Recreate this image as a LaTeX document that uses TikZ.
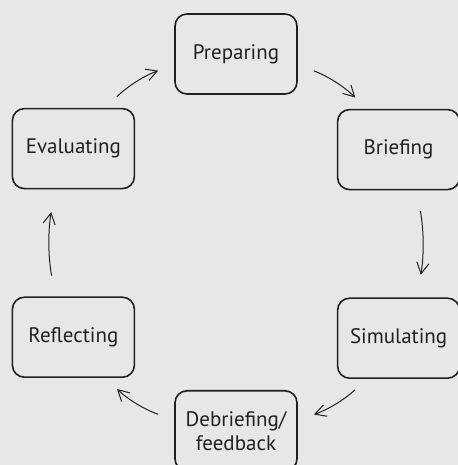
\documentclass[tikz,border=0pt]{standalone}
\usepackage{fontspec}
\setmainfont{PT Sans}
\usetikzlibrary{positioning}
\usetikzlibrary{arrows.meta}
\definecolor{bggray}{HTML}{E6E7E8}
\definecolor{inkgray}{HTML}{231F20}
\tikzset{main node/.style={rectangle,draw=inkgray,rounded corners=6pt,line width=0.8pt,minimum width=61pt,minimum height=40pt,inner sep=0pt,align=center,text=inkgray,font=\fontsize{10.5}{12}\selectfont},}
\tikzset{cycle arrow/.style={-{Straight Barb[length=5.5pt,width=6pt]},line width=0.5pt,color=inkgray},}

\begin{document}
\begin{tikzpicture}
   \fill[bggray] (0,0) rectangle (229pt,232.5pt);
   \useasboundingbox (0,0) rectangle (229pt,232.5pt);

   \node[main node] (prep) at (118pt,205.5pt) {Preparing};
   \node[main node] (brief) [below right = 7pt and 19.5pt of prep] {Briefing};
   \node[main node] (eval) [below left = 6.5pt and 19.5pt of prep] {Evaluating};
   \node[main node] (sim) [below = 53.5pt of brief] {Simulating};
   \node[main node] (refl) [below = 53.5pt of eval] {Reflecting};
   \node[main node] (deb) [below right = 6pt and 19.5pt of refl] {Debriefing/\\feedback};

   \path[cycle arrow]
   (eval.52) edge[bend left=12, shorten <=8pt, shorten >=8.5pt] (prep.190)
   (prep.-10) edge[bend left=12, shorten <=8.5pt, shorten >=8pt] (brief.128)
   (brief.-66) edge[bend left=10, shorten <=10.5pt, shorten >=11.5pt] (sim.66)
   (sim.-128) edge[bend left=12, shorten <=8pt, shorten >=8.5pt] (deb.10)
   (deb.170) edge[bend left=12, shorten <=8.5pt, shorten >=8pt] (refl.-52)
   (refl.114) edge[bend left=10, shorten <=10.5pt, shorten >=11.5pt] (eval.-114);
\end{tikzpicture}
\end{document}
